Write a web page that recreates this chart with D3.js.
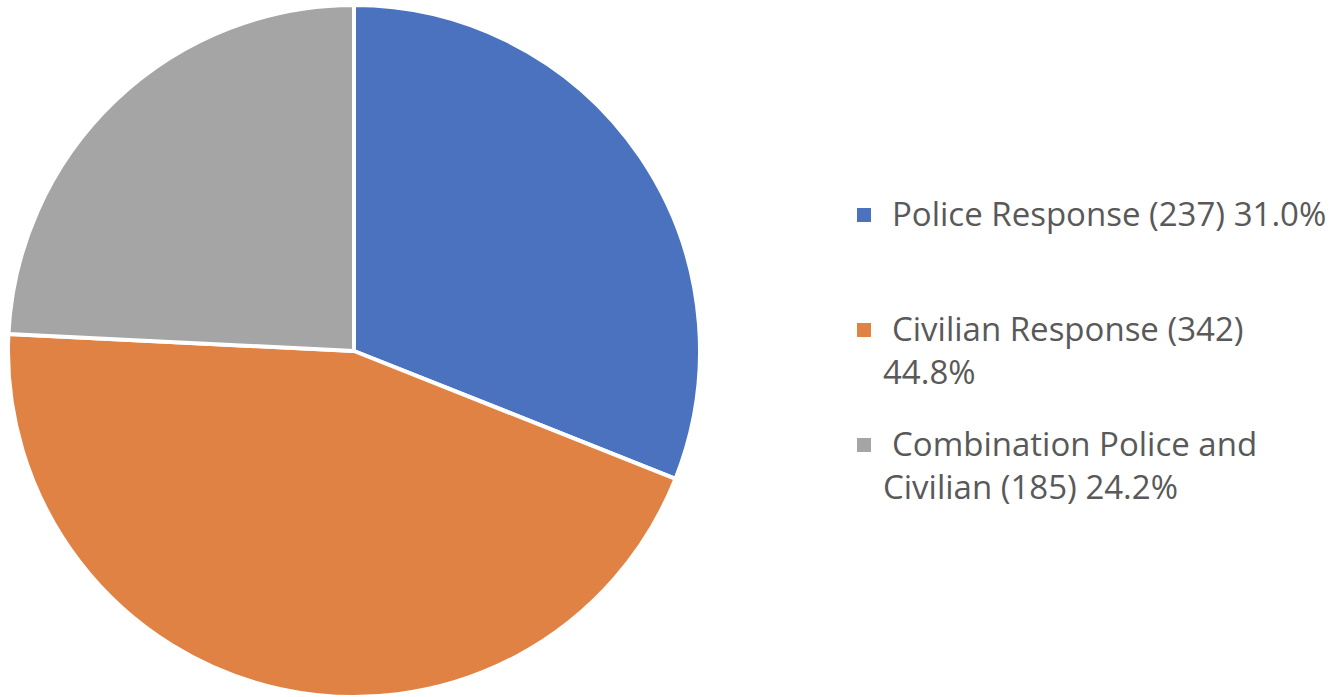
<!DOCTYPE html>
<html><head><meta charset="utf-8">
<script src="https://cdn.jsdelivr.net/npm/d3@7"></script>
<style>body{margin:0;background:#fff}svg{display:block}</style>
</head><body>
<svg id="c" width="1333" height="697"></svg>
<script>
const categories = ["Police Response", "Civilian Response", "Combination Police and Civilian"];
const counts = [237, 342, 185];
const percents = ["31.0%", "44.8%", "24.2%"];
const colors = ["#4a72be", "#e08244", "#a5a5a5"];
const legendLines = [
  ["Police Response (237) 31.0%"],
  ["Civilian Response (342)", "44.8%"],
  ["Combination Police and", "Civilian (185) 24.2%"]
];

const svg = d3.select("#c");
const cx = 354, cy = 351, r = 346;
const pie = d3.pie().sort(null).value(d => d)(counts);
const arc = d3.arc().innerRadius(0).outerRadius(r);
svg.append("g").attr("transform", `translate(${cx},${cy})`)
  .selectAll("path").data(pie).join("path")
  .attr("d", arc)
  .attr("fill", (d, i) => colors[i])
  .attr("stroke", "#fff").attr("stroke-width", 4).attr("stroke-linejoin", "round");

const baselines = [[226], [341, 384], [456, 499]];
const lg = svg.append("g").attr("font-family", "'Open Sans', sans-serif").attr("font-size", 33).attr("fill", "#595959");
categories.forEach((c, i) => {
  lg.append("rect").attr("x", 857).attr("y", baselines[i][0] - 18).attr("width", 14).attr("height", 14).attr("fill", colors[i]);
  legendLines[i].forEach((t, j) => {
    lg.append("text").attr("x", j === 0 ? 892 : 883).attr("y", baselines[i][j]).text(t);
  });
});
</script>
</body></html>
